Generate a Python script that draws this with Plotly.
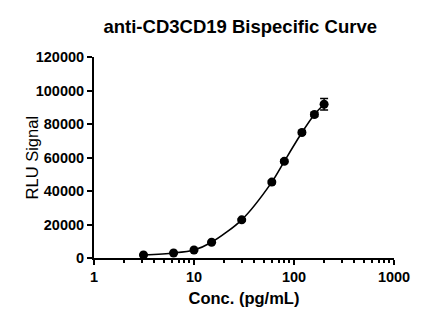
import plotly.graph_objects as go

conc = [3.125, 6.25, 10, 15, 30, 60, 80, 120, 160, 200]
rlu = [1800, 3000, 4800, 9400, 22800, 45300, 57700, 74900, 85700, 91800]
err = [300, 300, 400, 500, 700, 900, 900, 1000, 1200, 3400]

x_ticks = [1, 10, 100, 1000]
x_tick_labels = ["1", "10", "100", "1000"]
y_ticks = [0, 20000, 40000, 60000, 80000, 100000, 120000]

minor_vals = [m * d for d in (1, 10, 100) for m in range(2, 10)]

font = "Arial, Liberation Sans, sans-serif"

fig = go.Figure()
fig.add_trace(go.Scatter(
    x=conc, y=rlu, mode="lines+markers",
    line=dict(color="black", width=1.6, shape="spline", smoothing=0.8),
    marker=dict(color="black", size=9),
    error_y=dict(type="data", array=err, color="black", thickness=1.5, width=4),
    showlegend=False,
))

fig.update_layout(
    width=440, height=322,
    margin=dict(l=94, r=46, t=57, b=64),
    paper_bgcolor="white", plot_bgcolor="white",
    title=dict(text="<b>anti-CD3CD19 Bispecific Curve</b>", x=0.546, xanchor="center",
               y=0.919, yanchor="middle", font=dict(family=font, size=18.5, color="black")),
    font=dict(family=font, color="black"),
    annotations=[dict(text="RLU Signal", textangle=-90, xref="paper", yref="paper",
                      x=-0.207, y=0.5, xanchor="center", yanchor="middle", showarrow=False,
                      font=dict(family=font, size=16.5, color="black"))],
)
fig.update_xaxes(
    type="log", range=[0, 3], tickvals=x_ticks, ticktext=["<b>%s</b>" % t for t in x_tick_labels],
    ticks="outside", ticklen=5, tickwidth=1.5, tickcolor="black",
    showline=True, linecolor="black", linewidth=2, showgrid=False, zeroline=False,
    tickfont=dict(family=font, size=14.5, color="black"),
    minor=dict(tickvals=minor_vals, ticks="outside", ticklen=3, tickwidth=1.5, tickcolor="black", showgrid=False),
    title=dict(text="<b>Conc. (pg/mL)</b>", font=dict(family=font, size=16.5, color="black"), standoff=8),
)
fig.update_yaxes(
    range=[0, 120000], tickvals=y_ticks, ticktext=["<b>%d</b>" % v for v in y_ticks],
    ticks="outside", ticklen=5, tickwidth=1.5, tickcolor="black",
    showline=True, linecolor="black", linewidth=2, showgrid=False, zeroline=False,
    tickfont=dict(family=font, size=14.5, color="black"),
)

fig.write_html("out.html")
